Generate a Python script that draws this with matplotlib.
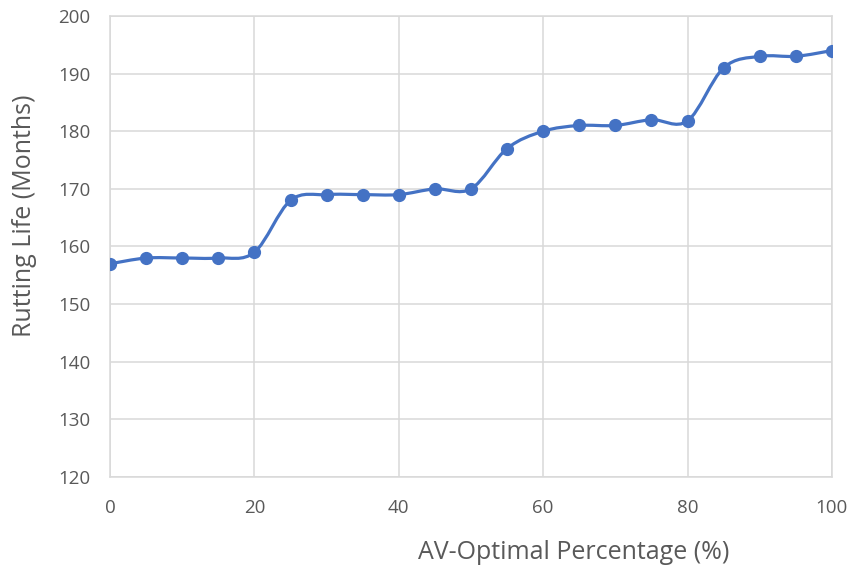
import matplotlib
matplotlib.use("Agg")
import matplotlib.pyplot as plt
import numpy as np
from matplotlib.path import Path
from matplotlib.patches import PathPatch

plt.rcParams['font.family'] = ['Open Sans', 'DejaVu Sans']

# data
av_pct = [0, 5, 10, 15, 20, 25, 30, 35, 40, 45, 50,
          55, 60, 65, 70, 75, 80, 85, 90, 95, 100]
rutting_life = [157, 158, 158, 158, 159, 168, 169, 169, 169, 170, 170,
                177, 180, 181, 181, 182, 181.8, 191, 193, 193, 194]

x_ticks = [0, 20, 40, 60, 80, 100]
y_ticks = [120, 130, 140, 150, 160, 170, 180, 190, 200]

blue = '#4472C4'
grey_txt = '#595959'
grid_col = '#d9d9d9'


def smooth_path(xs, ys):
    # Excel-like smoothed line: cubic Bezier through every point
    pts = np.column_stack([xs, ys]).astype(float)
    n = len(pts)
    verts = [pts[0]]
    codes = [Path.MOVETO]
    for i in range(n - 1):
        p0 = pts[i - 1] if i > 0 else pts[i]
        p1 = pts[i]
        p2 = pts[i + 1]
        p3 = pts[i + 2] if i + 2 < n else pts[i + 1]
        c1 = p1 + (p2 - p0) / 6.0
        c2 = p2 - (p3 - p1) / 6.0
        verts += [c1, c2, p2]
        codes += [Path.CURVE4] * 3
    return Path(verts, codes)


fig = plt.figure(figsize=(8.55, 5.69), dpi=100)
ax = fig.add_axes([0.1287, 0.1617, 0.8443, 0.8102])

ax.add_patch(PathPatch(smooth_path(av_pct, rutting_life), facecolor='none',
                       edgecolor=blue, lw=2.3, capstyle='round', zorder=3))
ax.plot(av_pct, rutting_life, 'o', color=blue, markersize=8.5, zorder=4)

ax.set_xlim(0, 100)
ax.set_ylim(120, 200)
ax.set_xticks(x_ticks)
ax.set_yticks(y_ticks)
ax.grid(True, color=grid_col, lw=1.1)
ax.set_axisbelow(True)
for s in ax.spines.values():
    s.set_color(grid_col)
    s.set_linewidth(1.1)
ax.tick_params(length=0, colors=grey_txt, labelsize=13.5)
ax.tick_params(axis='x', pad=16)
ax.tick_params(axis='y', pad=14)

fig.text(0.029, 0.62, 'Rutting Life (Months)', rotation=90, ha='center',
         va='center', fontsize=18, color=grey_txt)
fig.text(0.671, 0.029, 'AV-Optimal Percentage (%)', ha='center',
         va='center', fontsize=18, color=grey_txt)

fig.savefig('out.png', dpi=100)
